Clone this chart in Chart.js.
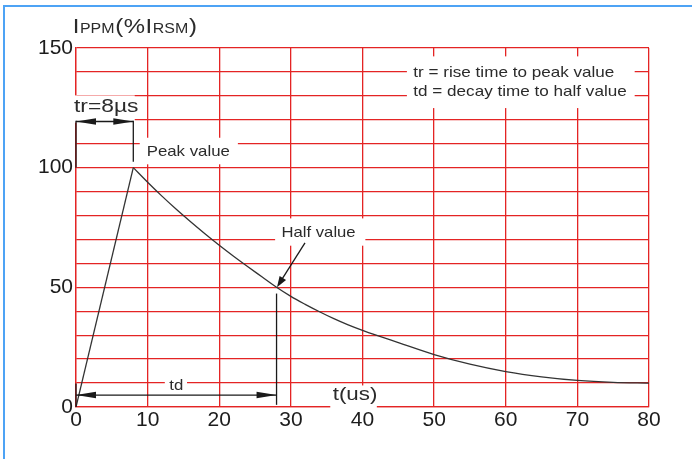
<!DOCTYPE html>
<html>
<head>
<meta charset="utf-8">
<script src="https://cdn.jsdelivr.net/npm/chart.js@4.4.1/dist/chart.umd.min.js"></script>
<style>
  html, body { margin: 0; padding: 0; background: #fff; overflow: hidden; }
  canvas { display: block; }
</style>
</head>
<body>
<canvas id="pulse" width="692" height="459"></canvas>
<script>
// rise: 0 -> peak at tr = 8us
const riseTime  = [0, 8];
const riseValue = [0, 100];

// decay, half value at td = 28us
const decayTime  = [8, 10, 12, 14, 16, 18, 20, 22, 24, 26, 28, 30, 32, 34, 36, 38, 40, 42, 45, 50, 55, 60, 65, 70, 75, 80];
const decayValue = [100, 93.9, 88.1, 82.6, 77.4, 72.4, 67.6, 63, 58.6, 54.3, 50, 46.2, 42.9, 39.8, 36.9, 34.3, 32, 29.9, 26.9, 21.9, 17.9, 14.8, 12.6, 11.1, 10.3, 10];

const xTickLabels = [0, 10, 20, 30, 40, 50, 60, 70, 80];
const yTickLabels = [0, 50, 100, 150];

const FONT  = '"Liberation Sans", Arial, sans-serif';
const RED   = "#e42424";
const INK   = "#1a1a1a";
const TEXT  = "#2b2b2b";
const FRAME = "#4da3f5";

Chart.defaults.font.family = FONT;

const toPoints = (xs, ys) => xs.map((x, i) => ({ x: x, y: ys[i] }));

// stretched text, the original lettering is a bit wider than Arial
function drawText(ctx, str, x, y, size, stretch, align) {
  ctx.save();
  ctx.font = size + "px " + FONT;
  ctx.fillStyle = TEXT;
  ctx.textBaseline = "alphabetic";
  ctx.translate(x, y);
  ctx.scale(stretch, 1);
  ctx.textAlign = align || "left";
  ctx.fillText(str, 0, 0);
  ctx.restore();
}

function arrowHead(ctx, fx, fy, tx, ty, len, half) {
  const a = Math.atan2(ty - fy, tx - fx);
  ctx.save();
  ctx.translate(tx, ty);
  ctx.rotate(a);
  ctx.beginPath();
  ctx.moveTo(0, 0);
  ctx.lineTo(-len, -half);
  ctx.lineTo(-len, half);
  ctx.closePath();
  ctx.fillStyle = INK;
  ctx.fill();
  ctx.restore();
}

function line(ctx, x1, y1, x2, y2) {
  ctx.beginPath();
  ctx.moveTo(x1, y1);
  ctx.lineTo(x2, y2);
  ctx.stroke();
}

// label boxes in data units: [t0, t1, v0, v1]
const boxes = [
  [46.2, 78.0, 146.5, 124.9],   // legend
  [8.9, 22.6, 112.5, 101.4],    // Peak value
  [-0.84, 8.2, 130.2, 118.8],   // tr=8us
  [27.8, 40.4, 78.8, 67.4],     // Half value
  [12.4, 15.5, 11.5, 8.0],      // td
  [35.5, 42.0, 9.0, -0.7]       // t(us)
];

const annotate = {
  id: "annotate",
  beforeDraw(chart) {
    const ctx = chart.ctx;
    ctx.save();
    ctx.fillStyle = "#fff";
    ctx.fillRect(0, 0, chart.width, chart.height);
    ctx.strokeStyle = FRAME;
    ctx.lineWidth = 2;
    ctx.beginPath();
    ctx.moveTo(4, chart.height + 2);
    ctx.lineTo(4, 6);
    ctx.lineTo(chart.width + 2, 6);
    ctx.stroke();
    ctx.restore();
  },
  beforeDatasetsDraw(chart) {
    const ctx = chart.ctx;
    const X = v => chart.scales.x.getPixelForValue(v);
    const Y = v => chart.scales.y.getPixelForValue(v);
    const area = chart.chartArea;

    ctx.save();
    ctx.fillStyle = "#fff";
    boxes.forEach(b => {
      ctx.fillRect(X(b[0]), Y(b[2]), X(b[1]) - X(b[0]), Y(b[3]) - Y(b[2]));
    });
    ctx.restore();

    drawText(ctx, "tr = rise time to peak value", X(47.1), Y(137.7), 15, 1.14);
    drawText(ctx, "td = decay time to half value", X(47.1), Y(129.8), 15, 1.14);
    drawText(ctx, "Peak value", X(9.87), Y(104.7), 15, 1.12);
    drawText(ctx, "tr=8µs", X(-0.28), Y(123.1), 19, 1.2);
    drawText(ctx, "Half value", X(28.7), Y(70.9), 15, 1.11);
    drawText(ctx, "td", X(14.0), Y(6.9), 15, 1.12, "center");
    drawText(ctx, "t(us)", X(35.84), Y(3.05), 18, 1.24);

    // axis title IPPM(%IRSM) with small caps subscripts
    const parts = [["I", 21], ["PPM", 14], ["(", 21], ["%", 21], ["I", 21], ["RSM", 14], [")", 21]];
    const stretch = 1.14;
    let x = area.left - 3.3;
    const base = area.top - 14.7;
    parts.forEach(p => {
      ctx.font = p[1] + "px " + FONT;
      const w = ctx.measureText(p[0]).width * stretch;
      drawText(ctx, p[0], x, base, p[1], stretch);
      x += w + 0.6;
    });
  },
  afterDatasetsDraw(chart) {
    const ctx = chart.ctx;
    const X = v => chart.scales.x.getPixelForValue(v);
    const Y = v => chart.scales.y.getPixelForValue(v);

    ctx.save();
    ctx.strokeStyle = INK;
    ctx.lineWidth = 1.3;

    // tr dimension
    const trY = Y(119.3);
    line(ctx, X(0), Y(119.6), X(0), Y(100));
    line(ctx, X(8), Y(119.6), X(8), Y(102.5));
    line(ctx, X(0), trY, X(8), trY);
    arrowHead(ctx, X(3), trY, X(0), trY, 20, 3.2);
    arrowHead(ctx, X(5), trY, X(8), trY, 20, 3.2);

    // td dimension
    const tdY = Y(5);
    line(ctx, X(0), Y(9.8), X(0), Y(0));
    line(ctx, X(28), Y(47.4), X(28), Y(0.9));
    line(ctx, X(0), tdY, X(28), tdY);
    arrowHead(ctx, X(10), tdY, X(0), tdY, 20, 3.2);
    arrowHead(ctx, X(18), tdY, X(28), tdY, 20, 3.2);

    // half value pointer
    line(ctx, X(31.97), Y(68.6), X(28.5), Y(52.2));
    arrowHead(ctx, X(31.97), Y(68.6), X(28.06), Y(50.0), 11, 3.8);
    ctx.restore();
  }
};

const ctx = document.getElementById("pulse").getContext("2d");

new Chart(ctx, {
  type: "line",
  data: {
    datasets: [
      {
        label: "rise",
        data: toPoints(riseTime, riseValue),
        borderColor: "#333",
        borderWidth: 1.3,
        pointRadius: 0,
        tension: 0
      },
      {
        label: "decay",
        data: toPoints(decayTime, decayValue),
        borderColor: "#333",
        borderWidth: 1.3,
        pointRadius: 0,
        cubicInterpolationMode: "monotone"
      }
    ]
  },
  options: {
    responsive: false,
    animation: false,
    devicePixelRatio: 1,
    layout: { padding: { left: 0, top: 48, right: 43, bottom: 0 } },
    plugins: {
      legend: { display: false },
      tooltip: { enabled: false }
    },
    scales: {
      x: {
        type: "linear",
        min: 0,
        max: 80,
        afterFit: s => { s.height = 52; },
        afterBuildTicks: s => { s.ticks = xTickLabels.map(v => ({ value: v })); },
        grid: { color: RED, lineWidth: 1.3, drawTicks: false },
        border: { color: RED, width: 1.3 },
        ticks: {
          color: "#1c1c1c",
          font: { size: 21 },
          padding: 1,
          maxRotation: 0,
          autoSkip: false
        }
      },
      y: {
        type: "linear",
        min: 0,
        max: 150,
        afterFit: s => { s.width = 76; },
        grid: { color: RED, lineWidth: 1.3, drawTicks: false },
        border: { color: RED, width: 1.3 },
        ticks: {
          stepSize: 10,
          color: "#1c1c1c",
          font: { size: 21 },
          padding: 3,
          autoSkip: false,
          callback: v => (yTickLabels.includes(v) ? String(v) : "")
        }
      }
    }
  },
  plugins: [annotate]
});
</script>
</body>
</html>
